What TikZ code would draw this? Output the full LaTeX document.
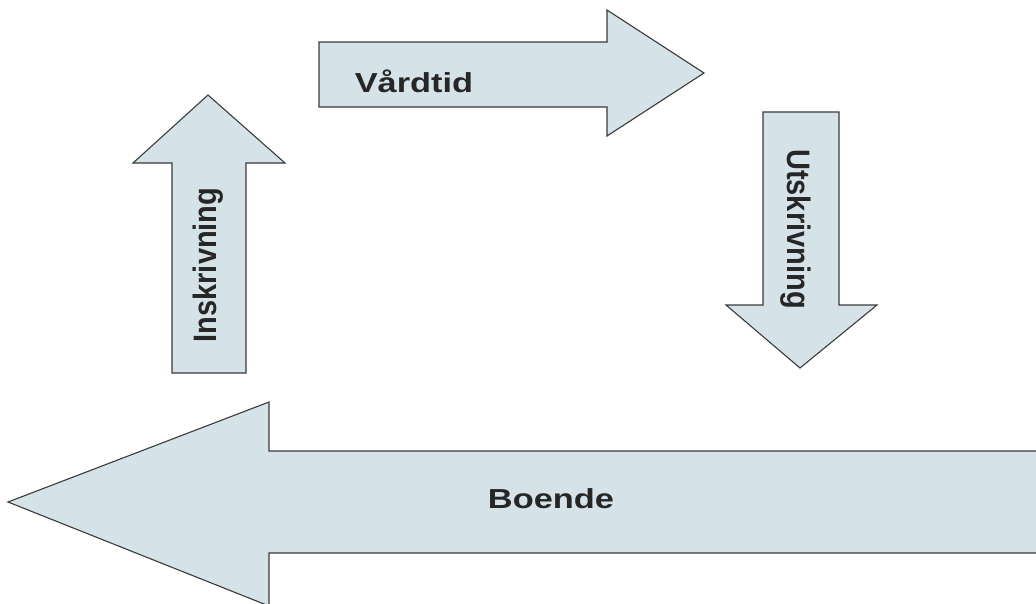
\documentclass[tikz,border=0pt]{standalone}
\usepackage{fontspec}
\setmainfont{Liberation Sans}
\definecolor{arrowfill}{HTML}{D5E3E9}
\definecolor{arrowline}{HTML}{3A3A3A}
\tikzset{
  blockarrow/.style={fill=arrowfill, draw=arrowline, line width=1.1pt, line join=miter},
  hlabel/.style={font=\bfseries\fontsize{27.5}{27.5}\selectfont, text=black!85, inner sep=0pt},
  vlabel/.style={font=\bfseries\fontsize{29}{29}\selectfont, text=black!85, inner sep=0pt},
}
\begin{document}
\begin{tikzpicture}[x=1pt,y=-1pt]
\useasboundingbox (0,0) rectangle (1036,603);
\clip (0,0) rectangle (1036,603);
% Vardtid (right)
\draw[blockarrow] (319,42) -- (607,42) -- (607,10) -- (704,73) -- (607,136) -- (607,107) -- (319,107) -- cycle;
% Inskrivning (up)
\draw[blockarrow] (172,373) -- (172,163) -- (133,163) -- (208,95) -- (285,163) -- (246,163) -- (246,373) -- cycle;
% Utskrivning (down)
\draw[blockarrow] (763,112) -- (839,112) -- (839,305) -- (877,305) -- (800,368) -- (726,305) -- (763,305) -- cycle;
% Boende (left)
\draw[blockarrow] (1045,451) -- (269,451) -- (269,402) -- (8,502) -- (269,606) -- (269,553) -- (1045,553) -- cycle;
% labels
\node[hlabel] (vard) at (414,81) {\scalebox{1.25}[1]{Vårdtid}};
\node[hlabel] (boende) at (551,499) {\scalebox{1.25}[1]{Boende}};
\node[vlabel, rotate=90] (inskr) at (208,265) {\scalebox{1}[1.12]{Inskrivning}};
\node[vlabel, rotate=-90] (utskr) at (796,229) {\scalebox{1}[1.12]{Utskrivning}};
\end{tikzpicture}
\end{document}
